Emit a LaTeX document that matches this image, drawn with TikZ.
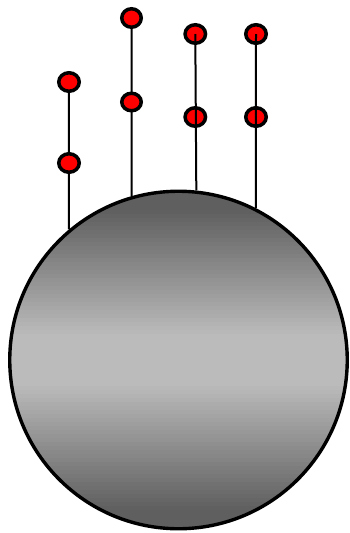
\documentclass[tikz,border=0pt]{standalone}
\usetikzlibrary{shapes.geometric, backgrounds, calc}
\definecolor{cdark}{HTML}{5F5F5F}
\definecolor{clight}{HTML}{BBBBBB}
\tikzset{
  every picture/.style={x=1pt, y=-1pt},
  ball/.style={circle, draw=black, line width=3.4pt, inner sep=0pt, minimum size=337.5pt},
  bead/.style={ellipse, draw=black, fill=red, line width=3.5pt, inner sep=0pt, minimum width=20.5pt, minimum height=18.5pt},
  wire/.style={draw=black, line width=2pt},
}
\begin{document}
\begin{tikzpicture}
  \useasboundingbox (0,0) rectangle (349,533);
  \node[ball] (ball) at (178.5,360) {};
  % beads on the four wires
  \node[bead] (b1) at (69,82) {};
  \node[bead] (b2) at (69,163) {};
  \node[bead, minimum width=19.5pt] (b3) at (131.5,18) {};
  \node[bead, minimum width=19.5pt, minimum height=17.5pt] (b4) at (131.5,102) {};
  \node[bead] (b5) at (195.3,34) {};
  \node[bead] (b6) at (195.3,117) {};
  \node[bead] (b7) at (256,34) {};
  \node[bead] (b8) at (256,117) {};
  \begin{scope}[on background layer]
    \draw[wire] (b1.center) -- (ball.130);
    \draw[wire] (b3.center) -- (ball.106);
    % grey shading of the ball, in thin strips
    \begin{scope}
      \clip (ball.center) circle[radius=169pt];
      \foreach \k in {0,...,84} {
        \pgfmathtruncatemacro{\p}{100*(1-min(1,max(0,(abs(\k*4+2-170)-25)/125)))}
        \fill[clight!\p!cdark] ($(ball.center)+(-170,-170+\k*4)$) rectangle ++(340,4.3);
      }
    \end{scope}
  \end{scope}
  \draw[wire] (b5.center) -- (ball.84.3);
  \draw[wire] (b7.center) -- (ball.63);
\end{tikzpicture}
\end{document}
